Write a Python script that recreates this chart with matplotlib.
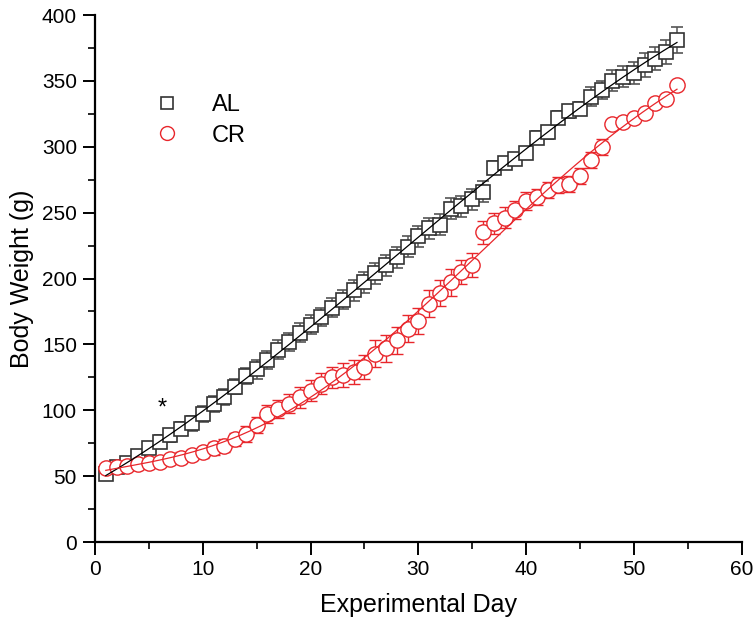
import numpy as np
import matplotlib
matplotlib.use("Agg")
import matplotlib.pyplot as plt
from matplotlib.lines import Line2D
from matplotlib.ticker import MultipleLocator

plt.rcParams["font.family"] = ["Liberation Sans", "DejaVu Sans"]

days = list(range(1, 55))
al_mean = [52, 57, 60, 65, 71, 76, 81, 86, 90, 97,
           105, 110, 118, 126, 131, 138, 146, 152, 159, 165,
           171, 178, 184, 191, 197, 204, 210, 216, 224, 232,
           238, 241, 253, 255, 260, 266, 284, 288, 291, 295,
           307, 311, 322, 327, 329, 338, 343, 350, 353, 356,
           362, 367, 372, 381]
al_err = [3, 3, 3, 4, 4, 5, 5, 5, 6, 6,
          6, 6, 6, 6, 7, 7, 7, 7, 7, 7,
          7, 7, 7, 8, 8, 8, 8, 8, 8, 8,
          8, 8, 8, 8, 8, 8, 5, 4, 4, 4,
          5, 5, 5, 5, 5, 7, 7, 8, 8, 8,
          9, 9, 9, 10]
cr_mean = [56, 57, 58, 59, 60, 61, 63, 64, 66, 68,
           71, 73, 78, 82, 89, 97, 101, 105, 110, 115,
           120, 125, 127, 129, 133, 143, 147, 153, 162, 168,
           181, 189, 197, 205, 210, 235, 242, 246, 252, 259,
           262, 267, 271, 272, 278, 290, 300, 317, 319, 322,
           326, 333, 336, 347]
cr_err = [2, 2, 2, 3, 3, 3, 3, 4, 4, 4,
          5, 5, 5, 6, 6, 7, 7, 7, 8, 8,
          8, 8, 9, 9, 9, 10, 10, 10, 10, 10,
          10, 10, 10, 9, 9, 9, 8, 8, 7, 7,
          6, 6, 6, 6, 6, 6, 6, 3, 3, 3,
          3, 3, 3, 3]
labels = ["AL", "CR"]

fig = plt.figure(figsize=(7.56, 6.29), dpi=100)
ax = fig.add_axes([0.1257, 0.1383, 0.8553, 0.8378])

black = "#333333"
red = "#e8262b"

ax.errorbar(days, al_mean, yerr=al_err, fmt="s", ms=9.5, mfc="white", mec=black,
            mew=1.2, ecolor="#555555", elinewidth=1.1, capsize=4.5, capthick=1.1, zorder=3)
ax.errorbar(days, cr_mean, yerr=cr_err, fmt="o", ms=11, mfc="white", mec=red,
            mew=1.0, ecolor=red, elinewidth=1.0, capsize=4.5, capthick=1.0, zorder=4)

xs = np.linspace(min(days), max(days), 300)
al_fit = np.polyval(np.polyfit(days, al_mean, 3), xs)
cr_fit = np.polyval(np.polyfit(days, cr_mean, 5), xs)
ax.plot(xs, al_fit, color="black", lw=0.9, zorder=5)
ax.plot(xs, cr_fit, color=red, lw=0.9, zorder=5)

ax.text(6.2, 101, "*", fontsize=17, ha="center", va="center")

ax.set_xlim(0, 60)
ax.set_ylim(0, 400)
ax.xaxis.set_major_locator(MultipleLocator(10))
ax.xaxis.set_minor_locator(MultipleLocator(5))
ax.yaxis.set_major_locator(MultipleLocator(50))
ax.yaxis.set_minor_locator(MultipleLocator(25))

for s in ["top", "right"]:
    ax.spines[s].set_visible(False)
for s in ["left", "bottom"]:
    ax.spines[s].set_linewidth(1.6)

ax.tick_params(which="major", direction="out", length=9, width=1.4, labelsize=15, pad=4)
ax.tick_params(which="minor", direction="out", length=5, width=1.2)

ax.set_xlabel("Experimental Day", fontsize=18, labelpad=10)
ax.set_ylabel("Body Weight (g)", fontsize=18, labelpad=6)

handles = [Line2D([], [], ls="none", marker="s", ms=8, mfc="white", mec=black, mew=1.2),
           Line2D([], [], ls="none", marker="o", ms=10, mfc="white", mec=red, mew=1.0)]
ax.legend(handles, labels, loc="upper left", bbox_to_anchor=(0.06, 0.89), frameon=False,
          fontsize=17, handlelength=1.0, handletextpad=1.4, labelspacing=0.35)

fig.savefig("out.png", dpi=100)
